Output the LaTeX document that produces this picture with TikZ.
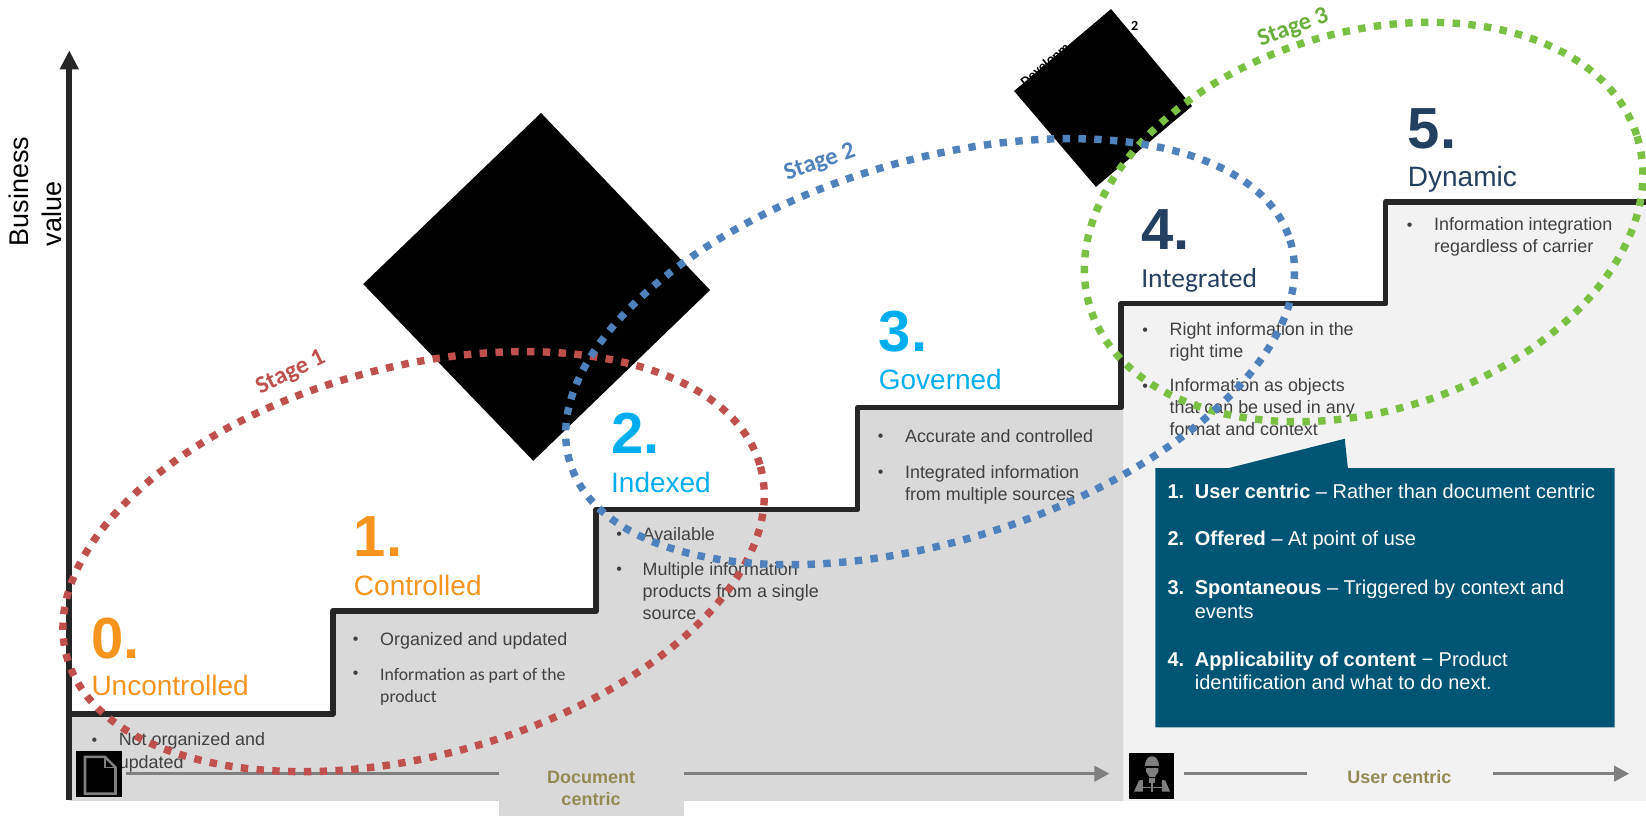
\documentclass[tikz,border=0pt]{standalone}
\usepackage{fontspec}
\setmainfont{Liberation Sans}
\newfontfamily\carlito{Carlito}
\usetikzlibrary{arrows.meta}
\definecolor{lgray}{HTML}{D9D9D9}
\definecolor{xgray}{HTML}{F2F2F2}
\definecolor{stair}{HTML}{262626}
\definecolor{orangeT}{HTML}{F7941E}
\definecolor{cyanT}{HTML}{00AEEF}
\definecolor{navyT}{HTML}{244061}
\definecolor{bodyT}{HTML}{404040}
\definecolor{redS}{HTML}{C0504D}
\definecolor{blueS}{HTML}{4F81BD}
\definecolor{greenS}{HTML}{7AC143}
\definecolor{greenT}{HTML}{6CAE3E}
\definecolor{boxB}{HTML}{005575}
\definecolor{oliveT}{HTML}{948A54}
\definecolor{arrowG}{HTML}{7F7F7F}
\tikzset{
  x=1.0497pt,y=-1.0497pt,
  txt/.style={inner sep=0pt,anchor=base west},
  num/.style={txt,font=\fontsize{58}{58}\selectfont\bfseries},
  lab/.style={txt,font=\fontsize{28}{30}\selectfont},
  body/.style={txt,text=bodyT,font=\fontsize{17.9}{20}\selectfont},
  cbody/.style={txt,text=bodyT,font=\fontsize{17.7}{20}\selectfont\carlito},
  bul/.style={txt,text=bodyT,font=\fontsize{16}{20}\selectfont},
  stagedots/.style={line width=7.4pt,dash pattern=on 7.4pt off 8.4pt},
  stagelabel/.style={inner sep=0pt,font=\fontsize{24.5}{26}\selectfont\carlito\bfseries},
  boxtxt/.style={txt,text=white,font=\fontsize{20}{22}\selectfont},
  axisl/.style={line width=6pt,color=stair},
  stairl/.style={line width=5.6pt,color=stair,line join=round},
  arrowl/.style={line width=3.6pt,color=arrowG},
  arrowh/.style={arrowl,-{Triangle[length=15pt,width=15pt]}},
  olive/.style={inner sep=0pt,align=center,text=oliveT,font=\fontsize{18}{22.5}\selectfont\bfseries},
  icon/.style={fill=black,inner sep=0pt,anchor=north west},
  iconl/.style={draw=arrowG,line width=2.6pt},
  blackd/.style={fill=black,draw=none},
}
\begin{document}
\begin{tikzpicture}
\useasboundingbox (0,0) rectangle (1568,776.4);
% backgrounds
\fill[xgray] (1070,289) -- (1320,289) -- (1320,192) -- (1568,192) -- (1568,763) -- (1070,763) -- cycle;
\fill[lgray] (66,680) -- (317,680) -- (317,582) -- (568,582) -- (568,485) -- (817,485) -- (817,388) -- (1070,388) -- (1070,763) -- (66,763) -- cycle;
% stairs and axis
\draw[stairl] (66,680.3) -- (317,680.3) -- (317,582.3) -- (568,582.3) -- (568,485.3) -- (817,485.3) -- (817,388.3) -- (1068,388.3) -- (1068,289.3) -- (1320,289.3) -- (1320,192.3) -- (1568,192.3);
\coordinate (axisb) at (66,762);
\coordinate (axist) at (66,48);
\draw[axisl,-{Triangle[length=19pt,width=18pt]}] (axisb) -- (axist);
% hidden label and black diamonds
\node[inner sep=0pt,rotate=40,font=\fontsize{14}{16}\selectfont\carlito\bfseries] (devt) at (996,62) {Developm};
\node[inner sep=0pt,font=\fontsize{14}{16}\selectfont\carlito\bfseries] (devn) at (1081,24.5) {2};
\fill[blackd] (515.4,107.6) -- (346,270.6) -- (508,439) -- (676.4,276.3) -- cycle;
\fill[blackd] (1058.4,8.6) -- (966,86.7) -- (1044,178) -- (1135.6,101) -- cycle;
% headings
\node[num,text=orangeT] (n0) at (87,627) {0.};
\node[lab,text=orangeT] (l0) at (87,663) {Uncontrolled};
\node[num,text=orangeT] (n1) at (337,530) {1.};
\node[lab,text=orangeT] (l1) at (337,567) {Controlled};
\node[num,text=cyanT] (n2) at (582,432) {2.};
\node[lab,text=cyanT] (l2) at (582,469) {Indexed};
\node[num,text=cyanT] (n3) at (837,335) {3.};
\node[lab,text=cyanT] (l3) at (837,371) {Governed};
\node[num,text=navyT] (n4) at (1087,238) {4.};
\node[lab,text=navyT,font=\fontsize{27.5}{30}\selectfont\carlito] (l4) at (1087,274) {Integrated};
\node[num,text=navyT] (n5) at (1341,141) {5.};
\node[lab,text=navyT] (l5) at (1341,178) {Dynamic};
% bodies
\node[bul] (b01) at (87,710) {•};
\node[body] (t01) at (113,710) {Not organized and};
\node[body] (t02) at (113,732) {updated};
\node[bul] (b11) at (336,614) {•};
\node[body] (t11) at (362,615) {Organized and updated};
\node[bul] (b12) at (336,646) {•};
\node[cbody] (t12) at (362,648) {Information as part of the};
\node[cbody] (t13) at (362,669) {product};
\node[bul] (b21) at (587,514) {•};
\node[body] (t21) at (612,515) {Available};
\node[bul] (b22) at (587,547) {•};
\node[body] (t22) at (612,548) {Multiple information};
\node[body] (t23) at (612,569) {products from a single};
\node[body] (t24) at (612,590) {source};
\node[bul] (b31) at (836,421) {•};
\node[body] (t31) at (862,422) {Accurate and controlled};
\node[bul] (b32) at (836,455) {•};
\node[body] (t32) at (862,456) {Integrated information};
\node[body] (t33) at (862,477) {from multiple sources};
\node[bul] (b41) at (1088,320) {•};
\node[body] (t41) at (1114,320) {Right information in the};
\node[body] (t42) at (1114,341) {right time};
\node[bul] (b42) at (1088,373) {•};
\node[body] (t43) at (1114,373) {Information as objects};
\node[body] (t44) at (1114,394) {that can be used in any};
\node[body] (t45) at (1114,415) {format and context};
\node[bul] (b51) at (1340,220) {•};
\node[body] (t51) at (1366,220) {Information integration};
\node[body] (t52) at (1366,241) {regardless of carrier};
% axis label
\node[inner sep=0pt,anchor=base west,rotate=90,font=\fontsize{27}{28}\selectfont] (yl1) at (27,235) {Business};
\node[inner sep=0pt,anchor=base west,rotate=90,font=\fontsize{27}{28}\selectfont] (yl2) at (59,235) {value};
% bottom band
\node[fill=lgray,inner sep=0pt,minimum width=184.7pt,minimum height=49pt,anchor=north west] (doclabel) at (475,730) {};
\node[olive,anchor=center] (doctext) at (563,751) {Document\\centric};
\node[inner sep=0pt,minimum width=186pt,minimum height=20pt] (userlabel) at (1333.5,740) {};
\node[olive,anchor=center] (usertext) at (1333,740) {User centric};
\node[icon,minimum width=45.7pt,minimum height=46pt] (docicon) at (72.4,715.5) {};
\node[icon,minimum width=45.7pt,minimum height=46pt] (usericon) at (1075,717) {};
\draw[iconl] (81,721) -- (100,721) -- (110,731) -- (110,756) -- (81,756) -- cycle;
\draw[iconl,line width=1.4pt] (100,721) -- (100,731) -- (110,731);
% worker icon
\fill[arrowG] (1090.8,730) .. controls (1090.8,717.5) and (1104.5,717.5) .. (1104.5,730) -- cycle;
\fill[arrowG] (1091.7,731.5) -- (1103.5,731.5) -- (1103.5,735) -- (1100.3,740) -- (1094.9,740) -- (1091.7,735) -- cycle;
\fill[arrowG] (1094.9,741) rectangle (1100.3,746.3);
\fill[arrowG] (1096.5,746.3) rectangle (1098,754);
\fill[arrowG] (1087.6,749.4) rectangle (1108.2,751);
\fill[arrowG] (1080.3,754) -- (1085,743.5) -- (1088.6,743) -- (1088.6,754) -- cycle;
\fill[arrowG] (1114.6,754) -- (1110,743.5) -- (1106.7,743) -- (1106.7,754) -- cycle;
\coordinate (al) at (120,737);
\coordinate (ar) at (1552,737);
\draw[arrowl,shorten <=4pt] (docicon.east |- al) -- (doclabel.west |- al);
\draw[arrowh,shorten >=19pt] (doclabel.east |- al) -- (usericon.west |- al);
\draw[arrowl,shorten <=9pt] (usericon.east |- al) -- (userlabel.west |- al);
\draw[arrowh] (userlabel.east |- al) -- (ar);
% stage ellipses
\draw[stagedots,redS] (394,535) circle[x radius=342.6,y radius=185,rotate=15.3];
\draw[stagedots,greenS] (1299,211.5) circle[x radius=273,y radius=180,rotate=17.4];
\draw[stagedots,blueS] (886,335) circle[x radius=359,y radius=181,rotate=17.2];
\node[stagelabel,text=redS,rotate=26] (s1) at (277,355) {Stage 1};
\node[stagelabel,text=blueS,rotate=19] (s2) at (781,155) {Stage 2};
\node[stagelabel,text=greenT,rotate=20] (s3) at (1232,27) {Stage 3};
% callout
\fill[boxB] (1100.5,446) -- (1170,446) -- (1281,418) -- (1284,446) -- (1538,446) -- (1538,693) -- (1100.5,693) -- cycle;
\node[boxtxt] (c1n) at (1112,475) {\textbf{1.}};
\node[boxtxt] (c1) at (1138,475) {\textbf{User centric} – Rather than document centric};
\node[boxtxt] (c2n) at (1112,520) {\textbf{2.}};
\node[boxtxt] (c2) at (1138,520) {\textbf{Offered} – At point of use};
\node[boxtxt] (c3n) at (1112,566) {\textbf{3.}};
\node[boxtxt] (c3) at (1138,566) {\textbf{Spontaneous} – Triggered by context and};
\node[boxtxt] (c3b) at (1138,589) {events};
\node[boxtxt] (c4n) at (1112,635) {\textbf{4.}};
\node[boxtxt] (c4) at (1138,635) {\textbf{Applicability of content} − Product};
\node[boxtxt] (c4b) at (1138,657) {identification and what to do next.};
\end{tikzpicture}
\end{document}
